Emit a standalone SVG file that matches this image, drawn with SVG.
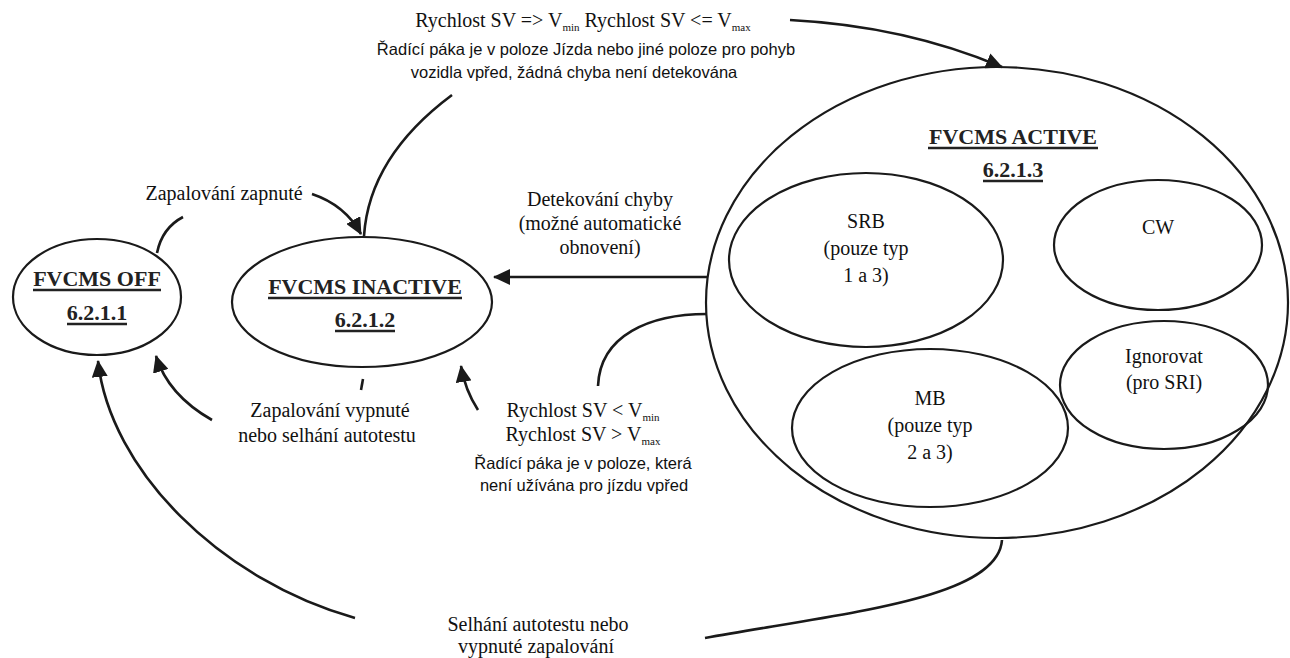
<svg xmlns="http://www.w3.org/2000/svg" width="1290" height="658" viewBox="0 0 1290 658">
<style>
.st{fill:none;stroke:#1a1a1a;stroke-width:2.2}
.cn{fill:none;stroke:#1a1a1a;stroke-width:2.6}
.ul{stroke:#222;stroke-width:2.6}
.t{font-family:"Liberation Serif","Times New Roman",serif;font-size:20px;fill:#111;text-anchor:middle}
.s{font-family:"Liberation Sans",Arial,sans-serif;font-size:16.5px;fill:#111;text-anchor:middle}
.h{font-family:"Liberation Serif","Times New Roman",serif;font-size:22px;font-weight:bold;fill:#222;text-anchor:middle}
.sub{font-size:11px}
</style>
<defs>
<marker id="arr" markerUnits="userSpaceOnUse" markerWidth="18" markerHeight="16" refX="16" refY="8" orient="auto">
<path d="M0,0 L17,8 L0,16 z" fill="#1a1a1a"/>
</marker>
</defs>
<rect width="1290" height="658" fill="#fff"/>
<g id="off">
<ellipse class="st" cx="97" cy="297" rx="84" ry="58"/>
<text class="h" x="97" y="286">FVCMS OFF</text>
<line class="ul" x1="33" y1="290" x2="161" y2="290"/>
<text class="h" x="97" y="320">6.2.1.1</text>
<line class="ul" x1="67" y1="324" x2="127" y2="324"/>
</g>
<g id="inactive">
<ellipse class="st" cx="362" cy="302" rx="130" ry="65"/>
<text class="h" x="365" y="294">FVCMS INACTIVE</text>
<line class="ul" x1="268" y1="298" x2="462" y2="298"/>
<text class="h" x="365" y="327">6.2.1.2</text>
<line class="ul" x1="335" y1="331" x2="395" y2="331"/>
</g>
<g id="active">
<ellipse class="st" cx="997" cy="302.5" rx="291" ry="235.5"/>
<text class="h" x="1013" y="144">FVCMS ACTIVE</text>
<line class="ul" x1="928" y1="148" x2="1098" y2="148"/>
<text class="h" x="1013" y="177">6.2.1.3</text>
<line class="ul" x1="983" y1="181" x2="1043" y2="181"/>
</g>
<g id="srb">
<ellipse class="st" cx="866" cy="260" rx="137" ry="87"/>
<text class="t" x="866" y="228">SRB</text>
<text class="t" x="866" y="255">(pouze typ</text>
<text class="t" x="866" y="282">1 a 3)</text>
</g>
<g id="cw">
<ellipse class="st" cx="1158" cy="245" rx="104" ry="65"/>
<text class="t" x="1158" y="234">CW</text>
</g>
<g id="ignorovat">
<ellipse class="st" cx="1164" cy="385" rx="104" ry="64"/>
<text class="t" x="1164" y="363">Ignorovat</text>
<text class="t" x="1164" y="389">(pro SRI)</text>
</g>
<g id="mb">
<ellipse class="st" cx="930" cy="428" rx="138" ry="79"/>
<text class="t" x="930" y="405">MB</text>
<text class="t" x="930" y="432">(pouze typ</text>
<text class="t" x="930" y="459">2 a 3)</text>
</g>
<g id="connectors">
<path class="cn" d="M790,20 Q905,26 1002,67" marker-end="url(#arr)"/>
<path class="cn" d="M452,95 C405,130 368,175 364,236"/>
<path class="cn" d="M312,194 Q345,205 361,234" marker-end="url(#arr)"/>
<path class="cn" d="M157,253 Q162,228 183,217"/>
<path class="cn" d="M707,277 L494,277" marker-end="url(#arr)"/>
<path class="cn" d="M707,314 C650,314 600,335 598,386"/>
<path class="cn" d="M478,410 Q465,390 461,366" marker-end="url(#arr)"/>
<path class="cn" d="M363,379 L361,390"/>
<path class="cn" d="M212,420 Q168,395 156,356" marker-end="url(#arr)"/>
<path class="cn" d="M355,618 C220,580 110,470 98,361" marker-end="url(#arr)"/>
<path class="cn" d="M1002,540 C998,598 850,612 705,638"/>
</g>
<g id="labels">
<text class="t" x="583" y="27">Rychlost SV =&gt; V<tspan class="sub" dy="4">min</tspan><tspan dy="-4"> Rychlost SV &lt;= V</tspan><tspan class="sub" dy="4">max</tspan></text>
<text class="s" x="586" y="55">Řadící páka je v poloze Jízda nebo jiné poloze pro pohyb</text>
<text class="s" x="574" y="78">vozidla vpřed, žádná chyba není detekována</text>
<text class="t" x="224" y="200">Zapalování zapnuté</text>
<text class="t" x="600" y="206">Detekování chyby</text>
<text class="t" x="600" y="230">(možné automatické</text>
<text class="t" x="600" y="254">obnovení)</text>
<text class="t" x="330" y="417">Zapalování vypnuté</text>
<text class="t" x="327" y="442">nebo selhání autotestu</text>
<text class="t" x="583" y="417">Rychlost SV &lt; V<tspan class="sub" dy="4">min</tspan></text>
<text class="t" x="583" y="441">Rychlost SV &gt; V<tspan class="sub" dy="4">max</tspan></text>
<text class="s" x="583" y="469">Řadící páka je v poloze, která</text>
<text class="s" x="584" y="491">není užívána pro jízdu vpřed</text>
<text class="t" x="538" y="631">Selhání autotestu nebo</text>
<text class="t" x="536" y="653">vypnuté zapalování</text>
</g>
</svg>
